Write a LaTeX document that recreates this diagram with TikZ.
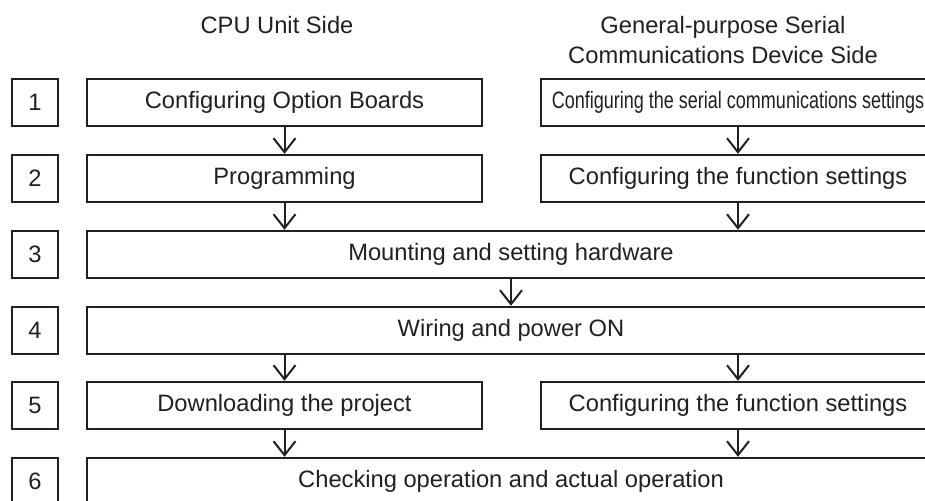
\documentclass[tikz,border=0pt]{standalone}
\usepackage{fontspec}
\setmainfont{Liberation Sans}
\usepackage{graphicx}
\usepackage{tikz}
\usetikzlibrary{arrows.meta, positioning}
\definecolor{flowline}{RGB}{35, 31, 32}

\begin{document}
\begin{tikzpicture}[
    x=1pt, y=-1pt,
    stepno/.style={rectangle, draw=flowline, line width=2.4pt, minimum width=46pt,
        minimum height=47pt, inner sep=0pt, font=\fontsize{23.7}{28}\selectfont, text=flowline},
    stepbox/.style={rectangle, draw=flowline, line width=2.4pt, minimum width=#1,
        minimum height=47pt, inner sep=0pt, font=\fontsize{23.7}{28}\selectfont, text=flowline},
    head/.style={align=center, font=\fontsize{23.7}{30}\selectfont, text=flowline},
    arr/.style={-{Straight Barb[length=14pt, width=22pt, line width=2pt]}, line width=2pt, flowline}
]
\useasboundingbox (0,0) rectangle (925,500);
\clip (0,0) rectangle (925,500);

% Column headings
\node[head] (cpuside) at (277,25) {CPU Unit Side};
\node[head] (devside) at (723,40) {General-purpose Serial\\Communications Device Side};

% Step numbers
\foreach \n/\y in {1/102.5, 2/178.5, 3/254.5, 4/330.5, 5/405.5, 6/481.5}
    \node[stepno] (no\n) at (35,\y) {\n};

% Steps
\node[stepbox=395pt] (opt) at (284.5,102.5) {Configuring Option Boards};
\node[stepbox=394pt] (serial) at (738,102.5) {\scalebox{0.76}[1]{Configuring the serial communications settings}};
\node[stepbox=395pt] (prog) at (284.5,178.5) {Programming};
\node[stepbox=394pt] (func) at (738,178.5) {Configuring the function settings};
\node[stepbox=848pt] (mount) at (511,254.5) {Mounting and setting hardware};
\node[stepbox=848pt] (wire) at (511,330.5) {Wiring and power ON};
\node[stepbox=395pt] (down) at (284.5,405.5) {Downloading the project};
\node[stepbox=394pt] (func2) at (738,405.5) {Configuring the function settings};
\node[stepbox=848pt] (check) at (511,481.5) {Checking operation and actual operation};

% Arrows
\draw[arr] (opt.south) -- (prog.north);
\draw[arr] (serial.south) -- (func.north);
\draw[arr] (prog.south) -- (prog.south |- mount.north);
\draw[arr] (func.south) -- (func.south |- mount.north);
\draw[arr] (mount.south) -- (wire.north);
\draw[arr] (down.north |- wire.south) -- (down.north);
\draw[arr] (func2.north |- wire.south) -- (func2.north);
\draw[arr] (down.south) -- (down.south |- check.north);
\draw[arr] (func2.south) -- (func2.south |- check.north);

\end{tikzpicture}
\end{document}
